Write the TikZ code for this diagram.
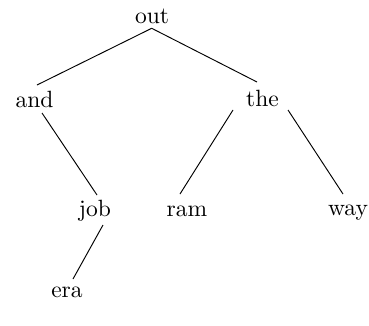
\documentclass[tikz,border=0pt]{standalone}
\usetikzlibrary{calc}
\begin{document}
\begin{tikzpicture}[x=0.425pt,y=-0.425pt,
  word/.style={anchor=base,inner sep=0pt,font=\normalsize},
  edge/.style={draw=black,line width=0.4pt}]
\useasboundingbox (0,0) rectangle (369,325);
\node[word] (out) at (152,23) {out};
\node[word] (and) at (34.5,107) {and};
\node[word] (the) at (262.5,106) {the};
\node[word] (job) at (95,216) {job};
\node[word] (ram) at (187,216) {ram};
\node[word] (way) at (348,215) {way};
\node[word] (era) at (67,297) {era};
\draw[edge] ($(out.base)+(-0.3,5.3)$) -- ($(and.base)+(2.5,-22)$);
\draw[edge] ($(out.base)+(-0.3,5.3)$) -- ($(the.base)+(-5.5,-24)$);
\draw[edge] ($(and.base)+(7.5,6)$) -- ($(job.base)+(2,-21)$);
\draw[edge] ($(the.base)+(-29.5,4)$) -- ($(ram.base)+(-7,-22)$);
\draw[edge] ($(the.base)+(25.5,4)$) -- ($(way.base)+(-5,-21)$);
\draw[edge] ($(job.base)+(8,9)$) -- ($(era.base)+(6,-18)$);
\end{tikzpicture}
\end{document}
